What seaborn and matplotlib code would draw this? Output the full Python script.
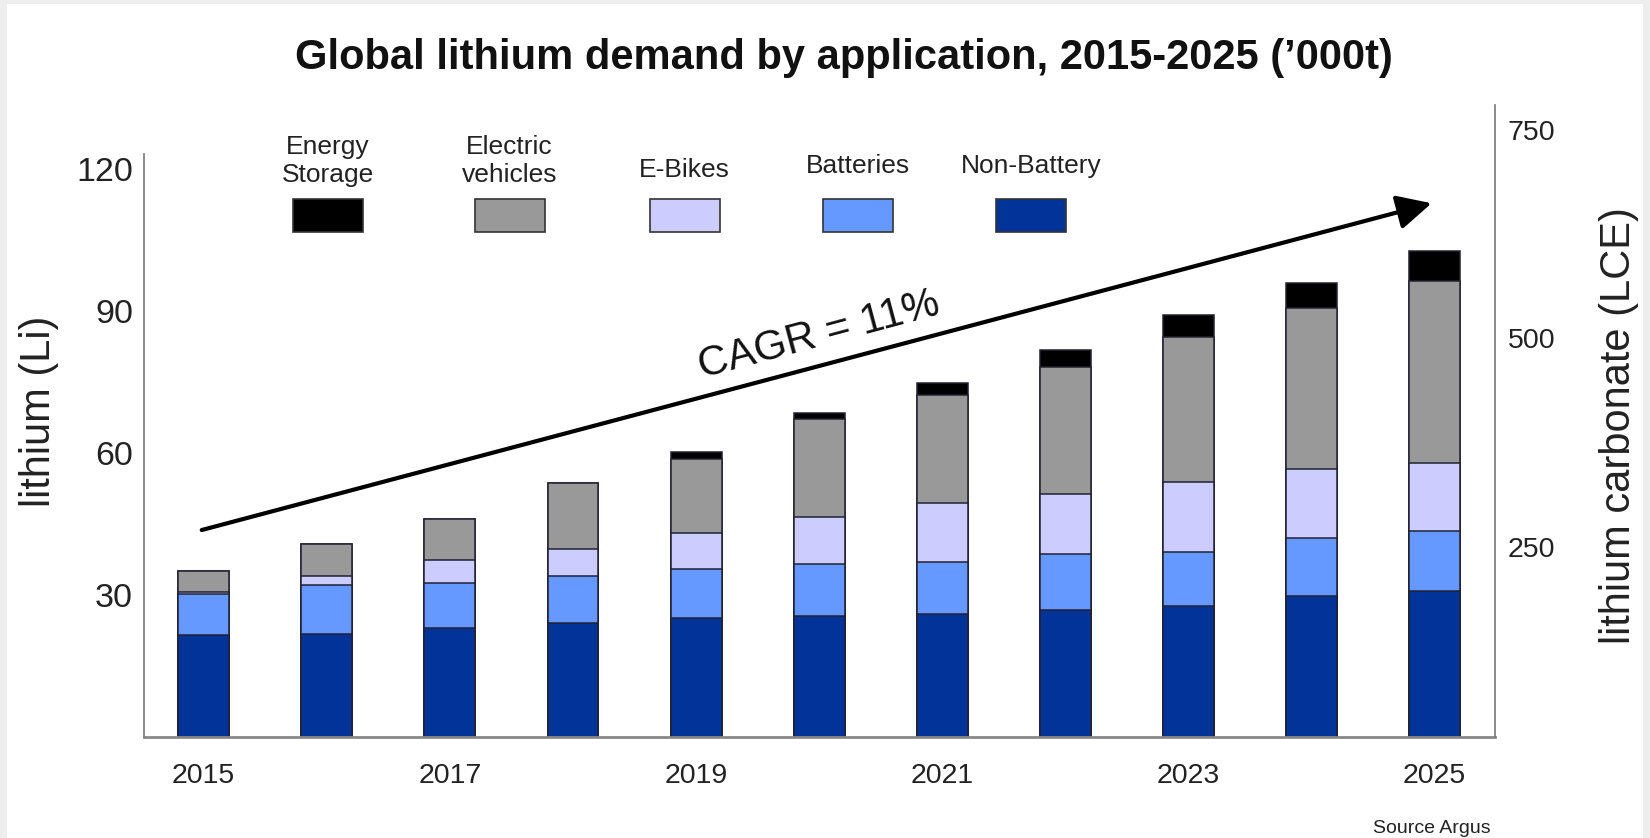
import matplotlib
matplotlib.use("Agg")
import matplotlib.pyplot as plt
import pandas as pd
import seaborn as sns
from matplotlib.patches import Rectangle

# ---- data ('000 t lithium) ----
years = ["2015", "2016", "2017", "2018", "2019", "2020",
         "2021", "2022", "2023", "2024", "2025"]
non_battery = [21.5, 21.7, 23.1, 24.0, 25.1, 25.6, 26.0, 26.8, 27.7, 29.8, 30.8]
batteries = [8.6, 10.3, 9.4, 9.9, 10.3, 10.9, 11.0, 11.8, 11.4, 12.3, 12.6]
e_bikes = [0.6, 1.9, 4.9, 5.8, 7.6, 9.9, 12.4, 12.7, 14.8, 14.5, 14.5]
electric_vehicles = [4.4, 6.8, 8.7, 13.9, 15.6, 20.7, 22.8, 26.8, 30.5, 33.9, 38.3]
energy_storage = [0.0, 0.0, 0.0, 0.0, 1.5, 1.3, 2.5, 3.6, 4.7, 5.3, 6.5]

series_names = ["Non-Battery", "Batteries", "E-Bikes", "Electric vehicles", "Energy Storage"]
legend_labels = ["Energy\nStorage", "Electric\nvehicles", "E-Bikes", "Batteries", "Non-Battery"]
colors = {
    "Non-Battery": "#023399",
    "Batteries": "#6699ff",
    "E-Bikes": "#ccccff",
    "Electric vehicles": "#999999",
    "Energy Storage": "#000000",
}
left_ticks = [30, 60, 90, 120]
right_ticks = [250, 500, 750]
cagr_label = "CAGR = 11%"
title = "Global lithium demand by application, 2015-2025 (\u2019000t)"

plt.rcParams["font.family"] = ["Liberation Sans", "DejaVu Sans"]

W, H = 1650, 838
fig = plt.figure(figsize=(W / 100, H / 100), dpi=100, facecolor="#eeeeee")
fig.add_artist(Rectangle((7 / W, 0), (1643 - 7) / W, (H - 4) / H,
                         transform=fig.transFigure, facecolor="white",
                         edgecolor="none", zorder=-10))

ax = fig.add_axes([144 / W, (H - 737) / H, (1495 - 144) / W, (737 - 154) / H])
ax.set_facecolor("none")

df = pd.DataFrame({
    "year": years,
    "Non-Battery": non_battery,
    "Batteries": batteries,
    "E-Bikes": e_bikes,
    "Electric vehicles": electric_vehicles,
    "Energy Storage": energy_storage,
})
stacked = df[series_names].cumsum(axis=1)
stacked["year"] = df["year"]

# stacked columns: draw cumulative totals from the top layer down
for name in reversed(series_names):
    sns.barplot(data=stacked, x="year", y=name, color=colors[name],
                saturation=1, width=0.414, edgecolor="#222233",
                linewidth=1.1, errorbar=None, ax=ax)

ax.set_xlim(-0.485, 10.49)
ax.set_ylim(0, 123.1)
ax.set_yticks(left_ticks)
ax.set_xticks(range(0, len(years), 2), labels=years[::2])
ax.set_xlabel("")
ax.set_ylabel("lithium (Li)", fontsize=30, color="#222222")
ax.yaxis.label.set_va("center")
ax.yaxis.label.set_ha("center")
ax.yaxis.set_label_coords(-0.0777, 0.559)
ax.tick_params(axis="x", length=0, pad=18.8, labelsize=20.5, colors="#222222")
ax.tick_params(axis="y", length=0, pad=8, labelsize=24.5, colors="#222222")
for s in ["top", "right"]:
    ax.spines[s].set_visible(False)
ax.spines["left"].set_color("#777777")
ax.spines["left"].set_linewidth(1.2)
ax.spines["bottom"].set_color("#888888")
ax.spines["bottom"].set_linewidth(2.0)

# growth arrow and label
ax.annotate("", xy=(9.975, 112.7), xytext=(-0.016, 43.7),
            arrowprops=dict(arrowstyle="-|>,head_length=0.7,head_width=0.35",
                            lw=3, color="black", mutation_scale=30,
                            shrinkA=0, shrinkB=0))
ax.text(5.0, 84.9, cagr_label, rotation=15, rotation_mode="anchor",
        ha="center", va="center", fontsize=30, color="#111111")

# secondary scale in lithium carbonate equivalent
ax2 = fig.add_axes([144 / W, (H - 737) / H, (1495 - 144) / W, (737 - 105) / H])
ax2.set_facecolor("none")
ax2.set_xlim(0, 1)
ax2.set_ylim(22, 780)
ax2.set_xticks([])
ax2.yaxis.tick_right()
ax2.set_yticks(right_ticks)
ax2.tick_params(axis="y", length=0, pad=9, labelsize=20.5, colors="#222222")
for s in ["top", "left", "bottom"]:
    ax2.spines[s].set_visible(False)
ax2.spines["right"].set_color("#777777")
ax2.spines["right"].set_linewidth(1.2)
ax2.set_ylabel("lithium carbonate (LCE)", fontsize=30, color="#222222")
ax2.yaxis.set_label_position("right")
ax2.yaxis.label.set_va("center")
ax2.yaxis.label.set_ha("center")
ax2.yaxis.set_label_coords(1.0918, 0.492)

# legend: swatches under their labels
legend_centers = [328, 509.5, 684.7, 858.4, 1031]
legend_bottoms = [186.7, 186.7, 181.7, 178.3, 177.7]
legend_order = ["Energy Storage", "Electric vehicles", "E-Bikes", "Batteries", "Non-Battery"]
for cx, by, name, lab in zip(legend_centers, legend_bottoms, legend_order, legend_labels):
    fig.add_artist(Rectangle(((cx - 35) / W, 1 - 232 / H), 70 / W, 33 / H,
                             transform=fig.transFigure, facecolor=colors[name],
                             edgecolor="#333333", linewidth=1.2))
    fig.text(cx / W, 1 - by / H, lab, ha="center", va="bottom",
             multialignment="center", fontsize=19, linespacing=1.2,
             color="#222222")

fig.text(844 / W, 1 - 58 / H, title, ha="center", va="center",
         fontsize=30, fontweight="bold", color="#111111")
fig.text(1432 / W, 1 - 828 / H, "Source Argus", ha="center", va="center",
         fontsize=14, color="#222222")

fig.savefig("out.png", dpi=100, facecolor=fig.get_facecolor())
